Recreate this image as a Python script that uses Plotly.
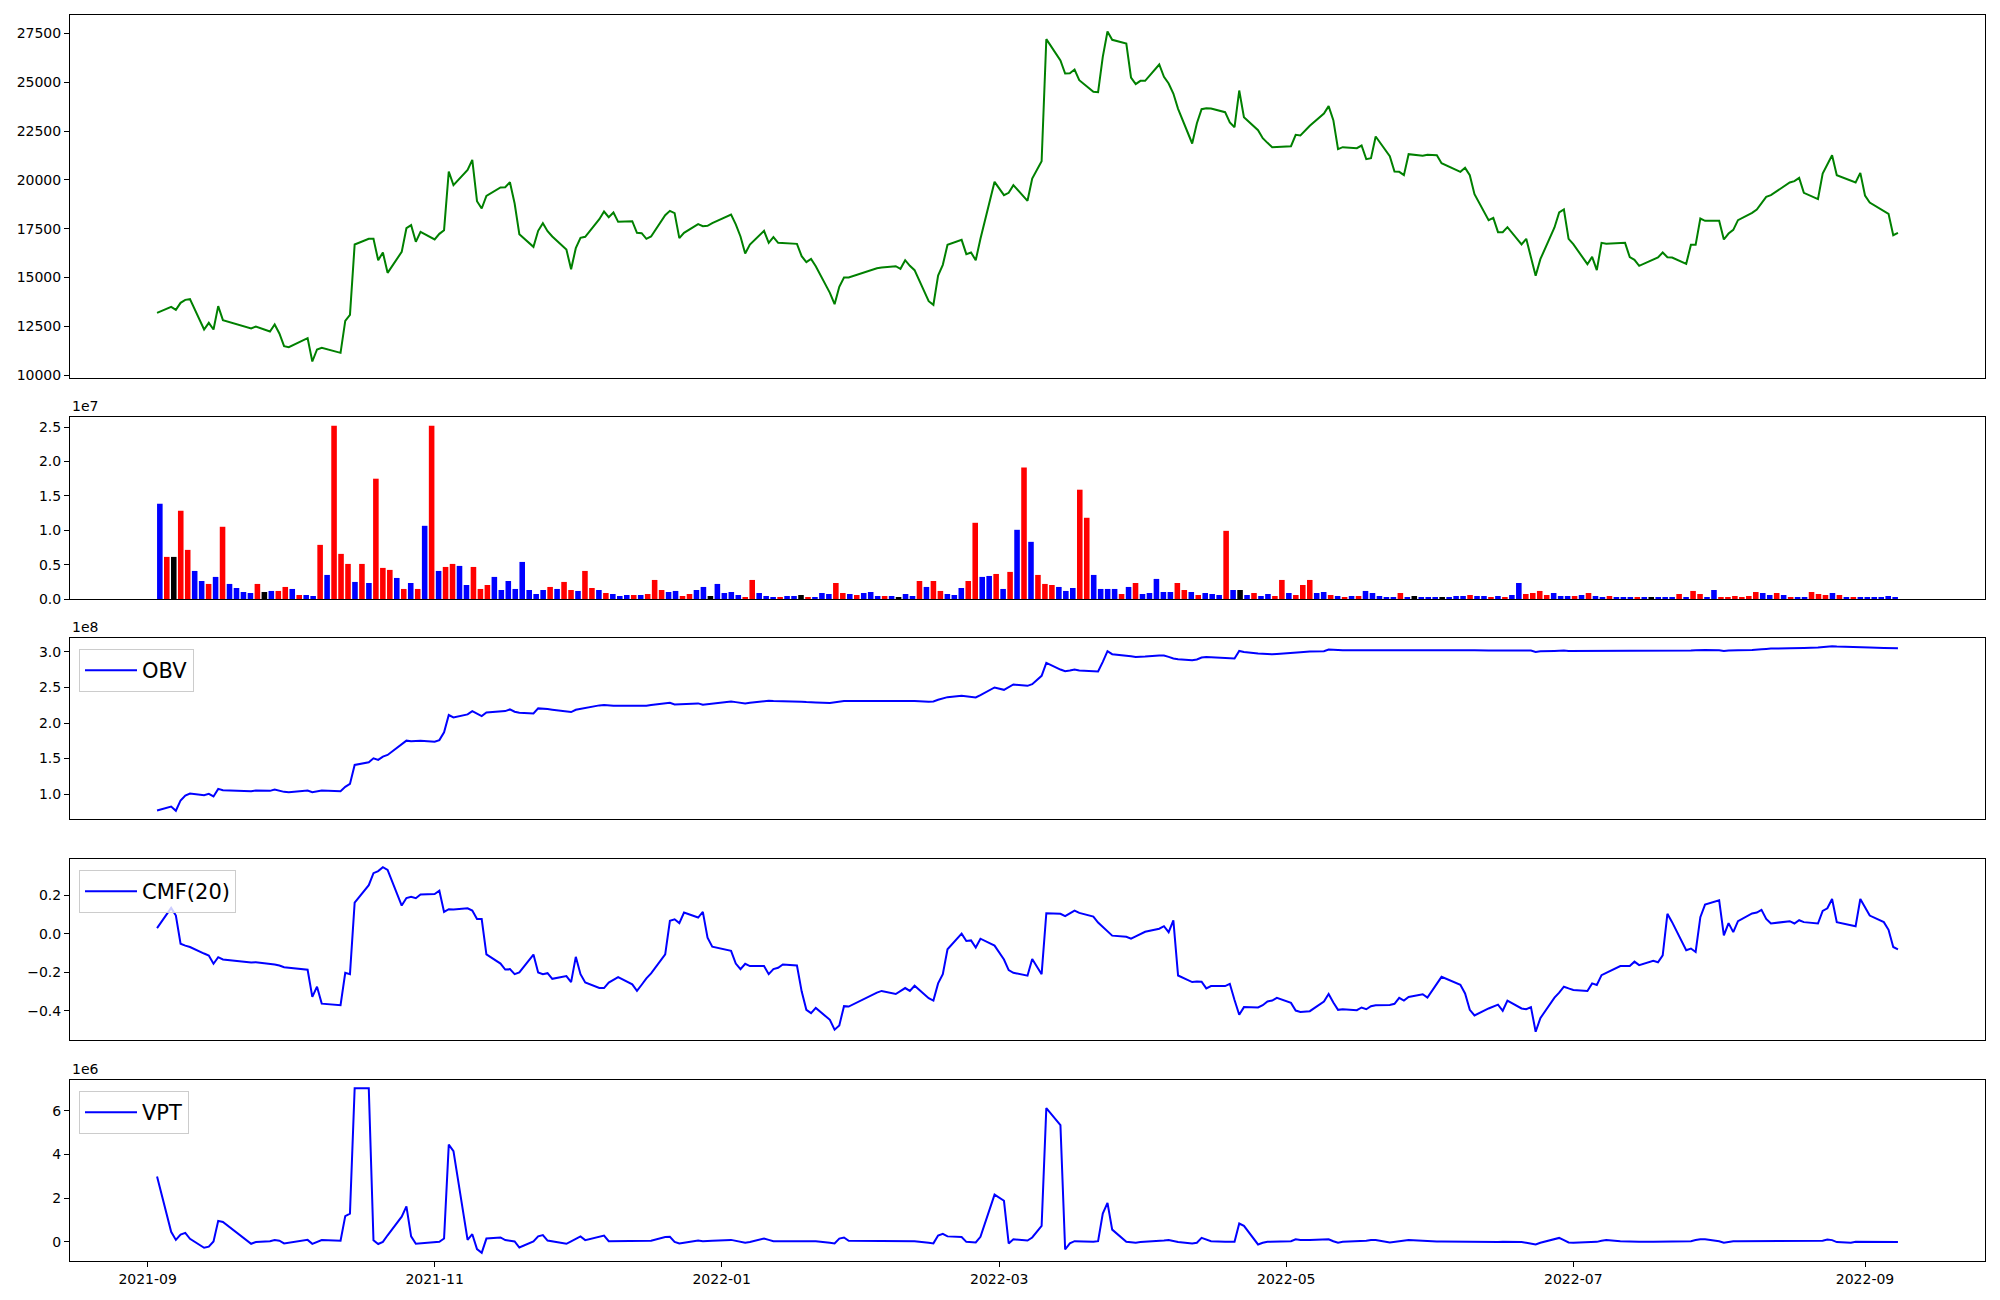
import pandas as pd
import plotly.graph_objects as go

# ---------------- data ----------------
# KRX trading calendar (weekdays minus market holidays)
holidays = ["2021-09-20", "2021-09-21", "2021-09-22", "2021-10-04", "2021-10-11",
            "2021-12-31", "2022-01-31", "2022-02-01", "2022-02-02", "2022-03-01",
            "2022-03-09", "2022-05-05", "2022-06-01", "2022-06-06", "2022-08-15"]
trade_dates = [d for d in pd.bdate_range("2021-09-03", "2022-09-08")
               if d.strftime("%Y-%m-%d") not in holidays]

close_price = [
    # 2021-09
    13188, 13495, 13341, 13700, 13854, 13888, 12334, 12676, 12334, 13530, 12812, 12385, 12487, 12231, 12590, 12129, 11480,
    # 2021-10
    11429, 11890, 10695, 11309, 11394, 11138, 12778, 13085, 16689, 16979, 16979, 15886, 16279, 15237, 16313, 17525, 17679, 16825, 17338,
    # 2021-11
    16945, 17235, 17423, 20428, 19728, 20514, 21026, 18909, 18533, 19182, 19609, 19626, 19882, 18789, 17218, 16569, 17389, 17781, 17372, 17098, 16432, 15425,
    # 2021-12
    16501, 17030, 17081, 17986, 18379, 18089, 18328, 17850, 17884, 17286, 17269, 16979, 17099, 18191, 18413, 18294, 17013, 17286, 17730, 17628, 17645, 17781,
    # 2022-01
    18225, 17720, 17100, 16227, 16689, 17389, 16774, 17064, 16774, 16760, 16723, 16091, 15783, 15954, 15579, 14212, 13632, 14520, 14998, 14998,
    # 2022-02
    15476, 15510, 15579, 15442, 15886, 15596, 15374, 13785, 13598, 15100, 15647, 16671, 16928, 16193, 16279, 15886, 16979, 19899,
    # 2022-03
    19216, 19335, 19728, 18926, 20070, 20958, 27208, 26115, 25449, 25466, 25654, 25108, 24510, 24493, 26303, 27601, 27174, 26986, 25244, 24903, 25073,
    # 2022-04
    25073, 25910, 25278, 24937, 24424, 23639, 21863, 22905, 23622, 23673, 23656, 23468, 22939, 22700, 24578, 23212, 22546, 22136, 21897, 21675, 21690,
    # 2022-05
    21726, 22307, 22273, 22768, 23400, 23776, 23058, 21573, 21675, 21624, 21760, 21060, 21111, 22222, 21214, 20428, 20411, 20241, 21316, 21231, 21282,
    # 2022-06
    21265, 20855, 20411, 20616, 20241, 19267, 17935, 18055, 17320, 17320, 17577, 16689, 16979, 16022, 15083, 15937, 17559, 18328, 18482, 16979,
    # 2022-07
    16706, 15681, 16057, 15374, 16774, 16723, 16757, 16774, 16040, 15903, 15596, 15937, 16023, 16279, 16040, 16023, 15698, 16671, 16671, 18021, 17901,
    # 2022-08
    17901, 16945, 17252, 17440, 17935, 18311, 18482, 18789, 19131, 19216, 19865, 19933, 20104, 19335, 19011, 20326, 20838, 21265, 20241, 19933, 19865, 20360,
    # 2022-09
    19199, 18840, 18413, 18260, 17167, 17286,
]

# volume in units of 1e7
volume_e7 = [
    # 2021-09
    1.385, 0.612, 0.612, 1.283, 0.714, 0.408, 0.262, 0.219, 0.321, 1.050, 0.219, 0.160, 0.102, 0.087, 0.219, 0.102, 0.117,
    # 2021-10
    0.117, 0.175, 0.146, 0.058, 0.058, 0.044, 0.787, 0.350, 2.520, 0.656, 0.510, 0.248, 0.510, 0.233, 1.749, 0.452, 0.423, 0.306, 0.146,
    # 2021-11
    0.233, 0.146, 1.064, 2.520, 0.408, 0.466, 0.510, 0.481, 0.204, 0.466, 0.146, 0.204, 0.321, 0.131, 0.262, 0.146, 0.539, 0.131, 0.073, 0.131, 0.175, 0.146,
    # 2021-12
    0.248, 0.131, 0.117, 0.408, 0.160, 0.131, 0.087, 0.073, 0.044, 0.058, 0.058, 0.058, 0.073, 0.277, 0.131, 0.102, 0.117, 0.044, 0.073, 0.131, 0.175, 0.044,
    # 2022-01
    0.219, 0.087, 0.102, 0.058, 0.029, 0.277, 0.087, 0.044, 0.029, 0.029, 0.044, 0.044, 0.058, 0.029, 0.029, 0.087, 0.073, 0.233, 0.087, 0.073,
    # 2022-02
    0.058, 0.087, 0.102, 0.044, 0.044, 0.044, 0.029, 0.073, 0.044, 0.262, 0.175, 0.262, 0.117, 0.073, 0.058, 0.160, 0.262, 1.108,
    # 2022-03
    0.321, 0.335, 0.364, 0.146, 0.394, 1.006, 1.910, 0.831, 0.350, 0.219, 0.204, 0.175, 0.117, 0.160, 1.589, 1.181, 0.350, 0.146, 0.146, 0.146, 0.073,
    # 2022-04
    0.175, 0.233, 0.073, 0.087, 0.292, 0.102, 0.102, 0.233, 0.131, 0.102, 0.058, 0.087, 0.073, 0.058, 0.991, 0.131, 0.131, 0.058, 0.087, 0.044, 0.073,
    # 2022-05
    0.044, 0.277, 0.087, 0.058, 0.204, 0.277, 0.087, 0.102, 0.058, 0.044, 0.029, 0.044, 0.044, 0.117, 0.087, 0.044, 0.029, 0.029, 0.087, 0.029, 0.044,
    # 2022-06
    0.029, 0.029, 0.029, 0.029, 0.029, 0.044, 0.044, 0.058, 0.044, 0.044, 0.029, 0.044, 0.029, 0.058, 0.233, 0.073, 0.087, 0.117, 0.058, 0.087,
    # 2022-07
    0.044, 0.044, 0.044, 0.058, 0.087, 0.044, 0.029, 0.044, 0.029, 0.029, 0.029, 0.029, 0.015, 0.029, 0.015, 0.015, 0.015, 0.073, 0.029, 0.117, 0.073,
    # 2022-08
    0.029, 0.131, 0.029, 0.029, 0.044, 0.029, 0.044, 0.102, 0.087, 0.058, 0.087, 0.058, 0.029, 0.029, 0.029, 0.102, 0.073, 0.058, 0.087, 0.058, 0.029, 0.029,
    # 2022-09
    0.029, 0.029, 0.029, 0.029, 0.044, 0.029,
]
# candle direction per day: u = up (red), d = down (blue), f = flat (black)
volume_dir = "".join([
    "dufuuddududdddufd",                     # 2021-09
    "uududduduuududuuudu",                   # 2021-10
    "dududuudduuuddddddddud",                # 2021-11
    "uuduududdd" "uduuudduud" "df",          # 2021-12
    "dddduudddu" "ddfuddduud",               # 2022-01
    "udddudfddu" "duuddduu",                 # 2022-02
    "ddudududuu" "uddduudddd" "u",           # 2022-03
    "duddddduud" "udddudfdud" "d",           # 2022-04
    "uuduuuddud" "ududddddud" "f",           # 2022-05
    "dddfdddudd" "ududduuuud",               # 2022-06
    "ddududdudd" "dudfdddudu" "u",           # 2022-07
    "dduuuuuudd" "ududduuudu" "du",          # 2022-08
    "dddddd",                                # 2022-09
])

# On-Balance Volume in units of 1e8
obv_e8 = [
    # 2021-09
    0.770, 0.826, 0.766, 0.911, 0.981, 1.009, 0.985, 1.004, 0.967, 1.074, 1.055, 1.041, 1.051, 1.046, 1.065, 1.046, 1.032,
    # 2021-10
    1.027, 1.051, 1.027, 1.041, 1.051, 1.041, 1.102, 1.144, 1.411, 1.448, 1.504, 1.481, 1.528, 1.551, 1.705, 1.752, 1.743, 1.752, 1.752,
    # 2021-11
    1.738, 1.760, 1.870, 2.112, 2.079, 2.121, 2.168, 2.131, 2.098, 2.149, 2.159, 2.168, 2.191, 2.159, 2.145, 2.135, 2.206, 2.206, 2.196, 2.187, 2.163, 2.154,
    # 2021-12
    2.187, 2.201, 2.215, 2.248, 2.252, 2.243, 2.243, 2.243, 2.243, 2.238, 2.238, 2.243, 2.252, 2.276, 2.285, 2.262, 2.266, 2.271, 2.276, 2.257, 2.266, 2.276,
    # 2022-01
    2.304, 2.294, 2.285, 2.276, 2.285, 2.313, 2.313, 2.308, 2.308, 2.308, 2.304, 2.299, 2.294, 2.294, 2.290, 2.280, 2.290, 2.304, 2.308, 2.308,
    # 2022-02
    2.308, 2.313, 2.318, 2.318, 2.313, 2.313, 2.308, 2.299, 2.304, 2.327, 2.341, 2.364, 2.383, 2.374, 2.364, 2.360, 2.393, 2.500,
    # 2022-03
    2.467, 2.509, 2.542, 2.523, 2.547, 2.664, 2.846, 2.752, 2.729, 2.738, 2.752, 2.738, 2.729, 2.724, 2.860, 3.010, 2.968, 2.954, 2.939, 2.930, 2.930,
    # 2022-04
    2.935, 2.949, 2.949, 2.930, 2.907, 2.897, 2.883, 2.893, 2.921, 2.930, 2.925, 2.916, 2.911, 2.907, 3.014, 3.000, 2.977, 2.972, 2.967, 2.967, 2.972,
    # 2022-05
    2.981, 2.991, 2.995, 3.005, 3.009, 3.033, 3.028, 3.023, 3.023, 3.023, 3.023, 3.028, 3.028, 3.033, 3.028, 3.023, 3.023, 3.028, 3.028, 3.023, 3.023,
    # 2022-06
    3.023, 3.023, 3.023, 3.028, 3.023, 3.023, 3.019, 3.019, 3.019, 3.019, 3.019, 3.019, 3.019, 3.019, 3.000, 3.009, 3.014, 3.019, 3.019, 3.014,
    # 2022-07
    3.014, 3.009, 3.014, 3.009, 3.014, 3.014, 3.014, 3.014, 3.009, 3.009, 3.009, 3.009, 3.014, 3.014, 3.014, 3.014, 3.014, 3.019, 3.023, 3.028, 3.028,
    # 2022-08
    3.023, 3.014, 3.019, 3.023, 3.023, 3.028, 3.028, 3.038, 3.042, 3.047, 3.052, 3.056, 3.061, 3.056, 3.061, 3.070, 3.075, 3.080, 3.075, 3.066, 3.066, 3.066,
    # 2022-09
    3.061, 3.061, 3.056, 3.056, 3.052, 3.052,
]

# Chaikin Money Flow (20)
cmf_20 = [
    # 2021-09
    0.029, 0.134, 0.094, -0.052, -0.062, -0.069, -0.103, -0.113, -0.156, -0.122, -0.134, -0.150, -0.148, -0.155, -0.160, -0.165, -0.174,
    # 2021-10
    -0.177, -0.187, -0.328, -0.275, -0.363, -0.371, -0.203, -0.210, 0.161, 0.252, 0.314, 0.325, 0.345, 0.331, 0.146, 0.185, 0.192, 0.184, 0.204,
    # 2021-11
    0.206, 0.223, 0.113, 0.127, 0.125, 0.132, 0.120, 0.076, 0.076, -0.107, -0.155, -0.186, -0.184, -0.210, -0.201, -0.108, -0.201, -0.210, -0.205, -0.234, -0.220, -0.251,
    # 2021-12
    -0.120, -0.210, -0.253, -0.282, -0.282, -0.254, -0.241, -0.225, -0.263, -0.297, -0.265, -0.232, -0.206, -0.107, 0.067, 0.075, 0.055, 0.110, 0.084, 0.113, -0.021, -0.067,
    # 2022-01
    -0.089, -0.155, -0.184, -0.156, -0.168, -0.168, -0.210, -0.184, -0.177, -0.160, -0.165, -0.299, -0.395, -0.412, -0.385, -0.447, -0.498, -0.476, -0.376, -0.378,
    # 2022-02
    -0.306, -0.297, -0.313, -0.296, -0.282, -0.297, -0.270, -0.335, -0.347, -0.258, -0.210, -0.081, 0.000, -0.038, -0.035, -0.072, -0.026, -0.062,
    # 2022-03
    -0.134, -0.189, -0.203, -0.218, -0.131, -0.210, 0.106, 0.103, 0.091, 0.106, 0.120, 0.108, 0.089, 0.058, 0.036, 0.017, -0.010, -0.016, -0.026, -0.014, 0.000,
    # 2022-04
    0.010, 0.026, 0.039, 0.008, 0.069, -0.217, -0.251, -0.248, -0.249, -0.284, -0.272, -0.272, -0.260, -0.344, -0.421, -0.381, -0.383, -0.371, -0.352, -0.347, -0.333,
    # 2022-05
    -0.359, -0.399, -0.406, -0.402, -0.352, -0.313, -0.357, -0.395, -0.392, -0.397, -0.383, -0.392, -0.376, -0.371, -0.370, -0.364, -0.333, -0.347, -0.328, -0.314, -0.332,
    # 2022-06
    -0.258, -0.224, -0.265, -0.310, -0.395, -0.424, -0.388, -0.376, -0.368, -0.400, -0.347, -0.388, -0.392, -0.381, -0.509, -0.438, -0.332, -0.306, -0.275, -0.284,
    # 2022-07
    -0.292, -0.297, -0.258, -0.266, -0.215, -0.203, -0.168, -0.167, -0.167, -0.145, -0.163, -0.141, -0.148, -0.112, 0.103, 0.060, -0.086, -0.077, -0.095, 0.086, 0.151,
    # 2022-08
    0.173, -0.009, 0.055, 0.008, 0.065, 0.105, 0.110, 0.124, 0.077, 0.053, 0.065, 0.053, 0.070, 0.060, 0.053, 0.118, 0.132, 0.180, 0.060, 0.043, 0.039, 0.180,
    # 2022-09
    0.134, 0.094, 0.060, 0.020, -0.069, -0.081,
]

# Volume Price Trend in units of 1e6
vpt_e6 = [
    # 2021-09
    2.99, 0.46, 0.09, 0.33, 0.41, 0.14, -0.27, -0.22, 0.02, 0.96, 0.91, -0.09, -0.01, 0.03, 0.08, 0.05, -0.07,
    # 2021-10
    -0.04, 0.09, -0.09, 0.00, 0.08, 0.05, 1.18, 1.29, 7.03, 7.03, 0.07, -0.10, 0.00, 0.30, 1.15, 1.62, 0.25, -0.09, -0.07,
    # 2021-11
    0.00, 0.00, 0.15, 4.45, 4.15, 0.09, 0.35, -0.33, -0.50, 0.15, 0.20, 0.08, 0.05, 0.02, -0.26, 0.02, 0.25, 0.31, 0.06, 0.02, -0.09, 0.02,
    # 2021-12
    0.15, 0.25, 0.08, 0.26, 0.29, 0.03, 0.03, 0.03, 0.03, 0.03, 0.03, 0.03, 0.05, 0.22, 0.23, 0.00, -0.07, -0.04, 0.06, 0.03, 0.03, 0.05,
    # 2022-01
    0.09, 0.05, -0.01, -0.04, -0.01, 0.15, 0.09, 0.03, 0.03, 0.03, 0.05, 0.05, 0.05, 0.05, 0.03, -0.04, -0.07, 0.15, 0.20, 0.05,
    # 2022-02
    0.05, 0.05, 0.05, 0.05, 0.05, 0.05, 0.03, -0.04, -0.07, 0.29, 0.37, 0.25, 0.22, 0.00, -0.01, -0.03, 0.23, 2.16,
    # 2022-03
    1.88, -0.07, 0.12, 0.06, 0.20, 0.73, 6.12, 5.34, -0.35, -0.07, 0.03, 0.02, 0.00, 0.03, 1.29, 1.78, 0.56, 0.00, -0.01, -0.04, -0.01,
    # 2022-04
    0.00, 0.02, 0.06, 0.08, 0.03, -0.01, -0.07, -0.04, 0.18, 0.11, 0.03, 0.00, 0.00, 0.00, 0.84, 0.73, -0.12, -0.04, 0.00, 0.00, 0.00,
    # 2022-05
    0.03, 0.12, 0.09, 0.08, 0.12, 0.12, 0.03, -0.04, 0.00, 0.02, 0.02, 0.05, 0.08, 0.08, -0.03, 0.00, 0.05, 0.08, 0.08, 0.05, 0.03,
    # 2022-06
    0.02, 0.02, 0.00, 0.00, 0.00, 0.00, 0.00, -0.01, -0.01, 0.00, 0.00, -0.01, -0.04, -0.07, -0.12, -0.04, 0.12, 0.18, 0.08, -0.03,
    # 2022-07
    -0.04, -0.01, 0.00, 0.00, 0.05, 0.08, 0.03, 0.02, 0.00, 0.00, 0.00, 0.00, 0.00, 0.00, 0.00, 0.00, 0.00, 0.03, 0.08, 0.12, 0.12,
    # 2022-08
    0.03, -0.04, 0.00, 0.03, 0.03, 0.03, 0.03, 0.03, 0.03, 0.03, 0.03, 0.03, 0.03, 0.03, 0.03, 0.05, 0.11, 0.08, -0.01, -0.04, 0.00, 0.00,
    # 2022-09
    0.00, 0.00, -0.01, -0.01, -0.01, -0.01,
]

for name, arr in [("dates", trade_dates), ("price", close_price), ("vol", volume_e7),
                  ("dir", volume_dir), ("obv", obv_e8), ("cmf", cmf_20), ("vpt", vpt_e6)]:
    assert len(arr) == 250, (name, len(arr))

# ---------------- styling ----------------
W, H = 2000, 1300
FONT = "DejaVu Sans"
dir_colors = {"u": "#ff0000", "d": "#0000ff", "f": "#000000"}
bar_colors = [dir_colors[c] for c in volume_dir]


def pad(vals, frac=0.05):
    lo, hi = min(vals), max(vals)
    d = hi - lo
    return [lo - frac * d, hi + frac * d]


def ydom(top_px, bot_px):
    return [1 - bot_px / H, 1 - top_px / H]


XDOM = [70 / W, 1985 / W]
D1 = ydom(15, 378)
D2 = ydom(417, 599)
D3 = ydom(638, 819)
D4 = ydom(859, 1040)
D5 = ydom(1080, 1261)

first, last = pd.Timestamp(trade_dates[0]), pd.Timestamp(trade_dates[-1])
span = last - first
date_range = [first - span * 0.05, last + span * 0.05]
n = len(volume_e7)
bar_range = [-0.4 - 0.05 * (n - 1 + 0.8), n - 1 + 0.4 + 0.05 * (n - 1 + 0.8)]

tickfont = dict(family=FONT, size=14, color="black")
frame = dict(showline=True, linecolor="black", linewidth=1, mirror=True,
             showgrid=False, zeroline=False, automargin=False)
yax = dict(frame, ticks="outside", ticklen=5, tickwidth=1, tickcolor="black",
           tickfont=tickfont)
xhidden = dict(frame, ticks="", showticklabels=False)

fig = go.Figure()
fig.add_trace(go.Scatter(x=trade_dates, y=close_price, mode="lines",
                         line=dict(color="green", width=2), xaxis="x", yaxis="y",
                         showlegend=False))
fig.add_trace(go.Bar(x=list(range(n)), y=volume_e7, marker=dict(color=bar_colors, line=dict(width=0)),
                     width=0.8, xaxis="x2", yaxis="y2", showlegend=False))
fig.add_trace(go.Scatter(x=trade_dates, y=obv_e8, mode="lines", name="OBV",
                         line=dict(color="blue", width=2), xaxis="x3", yaxis="y3",
                         legend="legend"))
fig.add_trace(go.Scatter(x=trade_dates, y=cmf_20, mode="lines", name="CMF(20)",
                         line=dict(color="blue", width=2), xaxis="x4", yaxis="y4",
                         legend="legend2"))
fig.add_trace(go.Scatter(x=trade_dates, y=vpt_e6, mode="lines", name="VPT",
                         line=dict(color="blue", width=2), xaxis="x5", yaxis="y5",
                         legend="legend3"))

legend_style = dict(xanchor="left", yanchor="top", bgcolor="rgba(255,255,255,0.8)",
                    bordercolor="#cccccc", borderwidth=1, itemwidth=52,
                    font=dict(family=FONT, size=21, color="black"))

fig.update_layout(
    width=W, height=H, margin=dict(l=0, r=0, t=0, b=0, pad=0, autoexpand=False),
    paper_bgcolor="white", plot_bgcolor="white",
    font=dict(family=FONT, size=14, color="black"),
    xaxis=dict(xhidden, domain=XDOM, anchor="y", range=date_range),
    yaxis=dict(yax, domain=D1, anchor="x", range=pad(close_price), dtick=2500, tick0=0, tickformat="d"),
    xaxis2=dict(xhidden, domain=XDOM, anchor="y2", range=bar_range),
    yaxis2=dict(yax, domain=D2, anchor="x2", range=[0, max(volume_e7) * 1.05], dtick=0.5, tick0=0, tickformat=".1f"),
    xaxis3=dict(xhidden, domain=XDOM, anchor="y3", range=date_range),
    yaxis3=dict(yax, domain=D3, anchor="x3", range=pad(obv_e8), dtick=0.5, tick0=0, tickformat=".1f"),
    xaxis4=dict(xhidden, domain=XDOM, anchor="y4", range=date_range),
    yaxis4=dict(yax, domain=D4, anchor="x4", range=pad(cmf_20), dtick=0.2, tick0=0, tickformat=".1f"),
    xaxis5=dict(frame, domain=XDOM, anchor="y5", range=date_range, ticks="outside", ticklen=5,
                tickwidth=1, tickcolor="black", tickfont=tickfont,
                tickformat="%Y-%m", dtick="M2", tick0="2021-09-01"),
    yaxis5=dict(yax, domain=D5, anchor="x5", range=pad(vpt_e6), dtick=2, tick0=0, tickformat="d"),
    legend=dict(legend_style, x=79 / W, y=1 - 649 / H),
    legend2=dict(legend_style, x=79 / W, y=1 - 870 / H),
    legend3=dict(legend_style, x=79 / W, y=1 - 1091 / H),
)

for label, dom in [("1e7", D2), ("1e8", D3), ("1e6", D5)]:
    fig.add_annotation(text=label, xref="paper", yref="paper", x=XDOM[0], y=dom[1],
                       xanchor="left", yanchor="bottom", yshift=1, showarrow=False,
                       font=dict(family=FONT, size=14, color="black"))

page_fix = (
    "var de=document.documentElement, b=document.body;"
    "de.style.margin='0'; de.style.padding='0'; de.style.overflow='hidden';"
    "b.style.margin='0'; b.style.padding='0'; b.style.overflow='hidden';"
    "b.style.width='2000px'; b.style.height='1300px'; b.style.lineHeight='0';"
    "var g=document.querySelector('.plotly-graph-div');"
    "if(g){g.style.overflow='hidden'; if(g.parentNode){g.parentNode.style.height='1300px';"
    "g.parentNode.style.overflow='hidden';}}"
)
fig.write_html("out.html", config={"displayModeBar": False}, post_script=page_fix)
